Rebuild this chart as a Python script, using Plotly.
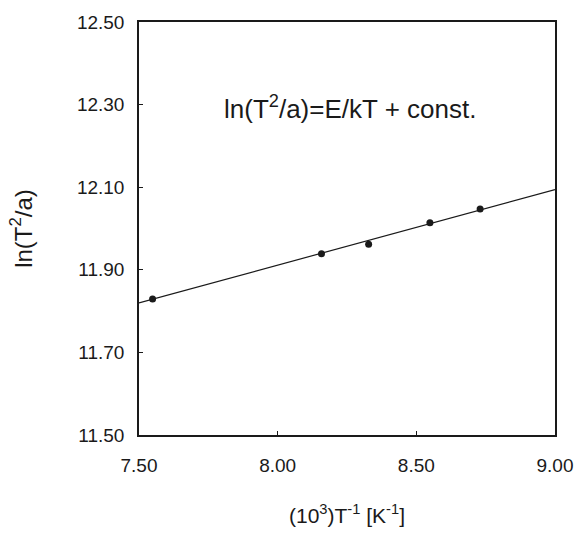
import plotly.graph_objects as go

# data
inv_T = [7.549, 8.158, 8.328, 8.549, 8.730]
ln_T2_a = [11.829, 11.939, 11.962, 12.014, 12.047]
fit_x = [7.50, 9.00]
fit_y = [11.820, 12.094]
x_ticks = [7.50, 8.00, 8.50, 9.00]
x_tick_labels = ["7.50", "8.00", "8.50", "9.00"]
y_ticks = [11.50, 11.70, 11.90, 12.10, 12.30, 12.50]
y_tick_labels = ["11.50", "11.70", "11.90", "12.10", "12.30", "12.50"]

FONT = "Liberation Sans, Arial, Helvetica, sans-serif"
INK = "#1a1a1a"

fig = go.Figure()
fig.add_trace(go.Scatter(x=fit_x, y=fit_y, mode="lines",
                         line=dict(color=INK, width=1.2), showlegend=False))
fig.add_trace(go.Scatter(x=inv_T, y=ln_T2_a, mode="markers",
                         marker=dict(color=INK, size=7), showlegend=False))

fig.add_annotation(x=8.26, y=12.292, xref="x", yref="y",
                   text="ln(T<sup>2</sup>/a)=E/kT + const.", showarrow=False,
                   font=dict(family=FONT, size=26, color=INK))

fig.update_layout(
    width=585, height=536,
    margin=dict(l=139, r=24, t=16, b=93),
    paper_bgcolor="white", plot_bgcolor="white",
    font=dict(family=FONT, size=19, color=INK),
)
fig.update_xaxes(range=[7.5, 9.0], tickvals=x_ticks, ticktext=x_tick_labels,
                 showgrid=False, zeroline=False, showline=True, mirror=True,
                 linecolor=INK, linewidth=1.5, ticks="inside", ticklen=4,
                 tickcolor=INK, ticklabelstandoff=12,
                 title=dict(text="(10<sup>3</sup>)T<sup>-1</sup> [K<sup>-1</sup>]",
                            font=dict(family=FONT, size=21, color=INK), standoff=34))
fig.update_yaxes(range=[11.5, 12.5], tickvals=y_ticks, ticktext=y_tick_labels,
                 showgrid=False, zeroline=False, showline=True, mirror=True,
                 linecolor=INK, linewidth=1.5, ticks="inside", ticklen=4,
                 tickcolor=INK, ticklabelstandoff=9,
                 title=dict(text="ln(T<sup>2</sup>/a)",
                            font=dict(family=FONT, size=24, color=INK), standoff=38))

fig.write_html("out.html", config={"displayModeBar": False},
               post_script="document.body.style.margin='0';document.body.style.overflow='hidden';")
